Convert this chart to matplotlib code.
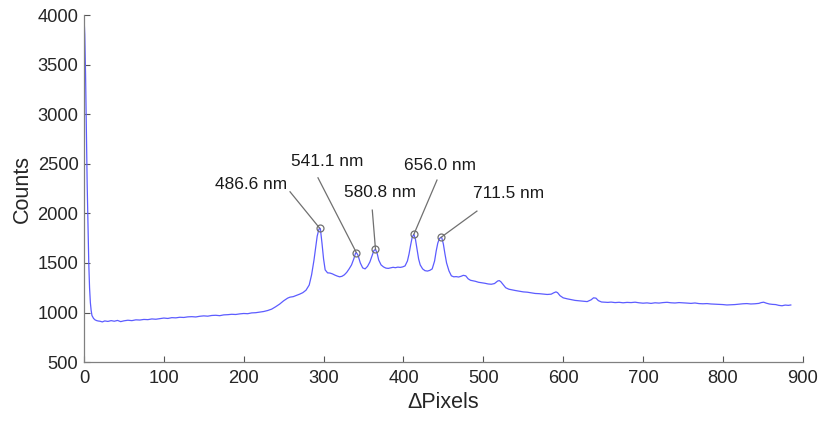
import matplotlib
matplotlib.use("Agg")
import matplotlib.pyplot as plt

plt.rcParams['font.family'] = ['Liberation Sans', 'DejaVu Sans']

pixels = [0, 1, 2, 3, 4, 5, 6, 7, 8, 9, 10, 12, 14, 16, 18, 20, 23, 26, 30, 34, 38, 42, 46, 50,
          55, 60, 65, 70, 75, 80, 85, 90, 95, 100, 105, 110, 115, 120, 125, 130, 135, 140, 145,
          150, 155, 160, 165, 170, 175, 180, 185, 190, 195, 200, 205, 210, 215, 220, 225, 230,
          235, 240, 245, 250, 255, 258, 262, 266, 270, 274, 278, 282, 285, 288, 290, 292, 294,
          295, 296, 298, 300, 302, 305, 308, 311, 314, 317, 320, 323, 326, 329, 332, 335, 338,
          340, 341, 343, 346, 349, 352, 355, 358, 361, 363, 365, 367, 369, 372, 375, 378, 381,
          384, 387, 390, 393, 396, 399, 402, 405, 407, 409, 411, 413, 415, 417, 419, 421, 424,
          427, 430, 433, 436, 439, 441, 443, 445, 447, 448, 450, 452, 454, 457, 460, 463, 466,
          469, 472, 475, 478, 481, 484, 487, 490, 494, 498, 502, 506, 510, 514, 518, 520, 522,
          525, 528, 532, 536, 540, 545, 550, 555, 560, 565, 570, 575, 580, 585, 588, 591, 593,
          596, 600, 605, 610, 615, 620, 625, 630, 635, 638, 641, 644, 648, 652, 656, 660, 665,
          670, 675, 680, 685, 690, 695, 700, 705, 710, 715, 720, 725, 730, 735, 740, 745, 750,
          755, 760, 765, 770, 775, 780, 785, 790, 795, 800, 805, 810, 815, 820, 825, 830, 835,
          840, 845, 848, 851, 854, 858, 862, 866, 870, 874, 878, 882, 885]

counts = [4000, 3800, 3400, 2850, 2300, 1900, 1500, 1250, 1100, 1020, 970, 940, 925, 918, 914, 912,
          905, 915, 910, 918, 912, 920, 908, 916, 922, 918, 926, 924, 930, 928, 935, 932, 938,
          944, 940, 948, 946, 952, 950, 956, 958, 955, 962, 966, 963, 970, 972, 968, 976, 978,
          982, 980, 986, 990, 988, 996, 998, 1004, 1010, 1020, 1034, 1058, 1085, 1118, 1145,
          1155, 1160, 1172, 1185, 1200, 1225, 1277, 1380, 1529, 1650, 1770, 1835, 1852, 1845,
          1700, 1540, 1430, 1400, 1398, 1390, 1378, 1368, 1360, 1365, 1380, 1405, 1440, 1480,
          1545, 1598, 1605, 1580, 1500, 1450, 1440, 1465, 1510, 1580, 1625, 1637, 1600, 1530,
          1480, 1460, 1448, 1445, 1450, 1456, 1452, 1458, 1455, 1460, 1470, 1520, 1590, 1680,
          1760, 1788, 1740, 1640, 1540, 1480, 1440, 1422, 1418, 1425, 1440, 1520, 1620, 1700,
          1745, 1758, 1755, 1690, 1590, 1500, 1420, 1370, 1360, 1362, 1358, 1365, 1375, 1370,
          1340, 1325, 1320, 1315, 1305, 1300, 1295, 1288, 1285, 1292, 1318, 1322, 1310, 1280,
          1250, 1235, 1228, 1222, 1215, 1208, 1205, 1198, 1192, 1190, 1186, 1182, 1185, 1198,
          1208, 1200, 1170, 1148, 1138, 1130, 1122, 1118, 1115, 1110, 1128, 1148, 1145, 1120,
          1106, 1104, 1102, 1105, 1100, 1103, 1098, 1102, 1100, 1104, 1098, 1094, 1097, 1092,
          1098, 1095, 1100, 1103, 1098, 1096, 1100, 1098, 1095, 1092, 1096, 1090, 1088, 1090,
          1086, 1084, 1082, 1080, 1076, 1078, 1080, 1084, 1088, 1090, 1086, 1088, 1092, 1100,
          1104, 1095, 1086, 1082, 1080, 1072, 1068, 1075, 1072, 1076]

peak_pixels = [295, 341, 365, 413, 447]
peak_labels = ['486.6 nm', '541.1 nm', '580.8 nm', '656.0 nm', '711.5 nm']
label_pos = [(209, 2295), (305, 2527), (371, 2215), (446, 2487), (532, 2205)]
leader_start = [(258, 2218), (293, 2359), (361, 2033), (442, 2336), (492, 2023)]

x_ticks = list(range(0, 1000, 100))
y_ticks = list(range(500, 4500, 500))

fig = plt.figure(figsize=(8.2, 4.21), dpi=100)
ax = fig.add_axes([0.1024, 0.140, 0.8766, 0.824])

ax.plot(pixels, counts, color='#5c5cff', lw=0.9)

peak_counts = [counts[pixels.index(p)] for p in peak_pixels]
for p, c, lab, tp, ls in zip(peak_pixels, peak_counts, peak_labels, label_pos, leader_start):
    ax.plot([ls[0], p], [ls[1], c], color='#707070', lw=0.9)
    ax.plot(p, c, 'o', mfc='none', mec='#707070', ms=5, mew=0.9)
    ax.text(tp[0], tp[1], lab, ha='center', va='center', fontsize=12.4, color='#1a1a1a')

ax.set_xlim(0, 900)
ax.set_ylim(500, 4000)
ax.set_xticks(x_ticks)
ax.set_yticks(y_ticks)
ax.tick_params(direction='in', length=4, width=0.8, color='#555555', labelsize=13.2,
               labelcolor='#262626')
ax.tick_params(axis='x', pad=6)
ax.tick_params(axis='y', pad=4)
for s in ['top', 'right']:
    ax.spines[s].set_visible(False)
for s in ['left', 'bottom']:
    ax.spines[s].set_color('#808080')
    ax.spines[s].set_linewidth(0.9)
ax.set_xlabel('ΔPixels', fontsize=15.5, color='#262626', labelpad=3)
ax.set_ylabel('Counts', fontsize=15.5, color='#262626', labelpad=3)

fig.savefig('out.png', dpi=100)
